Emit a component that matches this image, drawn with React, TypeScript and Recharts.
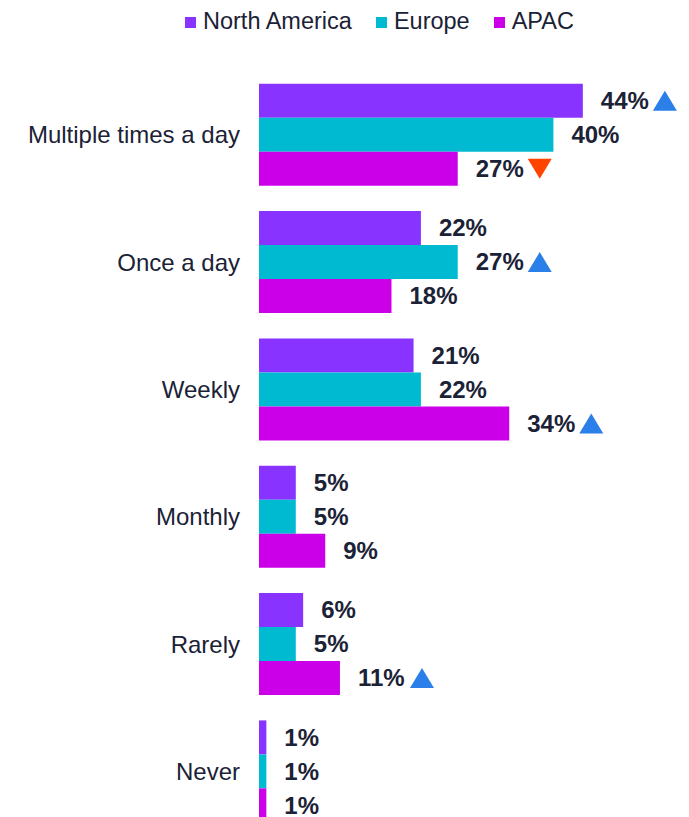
import { Bar, BarChart, LabelList, XAxis, YAxis } from 'recharts';

const categories = ['Multiple times a day', 'Once a day', 'Weekly', 'Monthly', 'Rarely', 'Never'];
const northAmerica = [44, 22, 21, 5, 6, 1];
const europe = [40, 27, 22, 5, 5, 1];
const apac = [27, 18, 34, 9, 11, 1];

// significance markers shown after the value label
const northAmericaTrend = ['up', '', '', '', '', ''];
const europeTrend = ['', 'up', '', '', '', ''];
const apacTrend = ['down', '', 'up', '', 'up', ''];

const seriesNames = ['North America', 'Europe', 'APAC'];
const seriesColors = ['#8833ff', '#00bad2', '#cc00e8'];

const data = categories.map((category, i) => ({
    category,
    northAmerica: northAmerica[i],
    europe: europe[i],
    apac: apac[i],
}));

const FONT = '"Liberation Sans", Arial, Helvetica, sans-serif';
const TEXT = '#1b2236';
const UP = '#2b7fe8';
const DOWN = '#ff4400';

function textWidth(s: string, size: number) {
    let w = 0;
    for (const ch of s) w += ch === '%' ? 0.889 : 0.556;
    return w * size;
}

function makeLabel(trends: string[]) {
    return (props: any) => {
        const { x, y, width, height, value, index } = props;
        const tx = Number(x) + Number(width) + 18;
        const cy = Number(y) + Number(height) / 2;
        const label = `${value}%`;
        const trend = trends[index];
        const lx = tx + textWidth(label, 24) + 4;
        let tri = null;
        if (trend === 'up') {
            tri = <path d={`M${lx},${cy + 10} L${lx + 24},${cy + 10} L${lx + 12},${cy - 10} Z`} fill={UP} />;
        } else if (trend === 'down') {
            tri = <path d={`M${lx},${cy - 10} L${lx + 24},${cy - 10} L${lx + 12},${cy + 10} Z`} fill={DOWN} />;
        }
        return (
            <g>
                <text x={tx} y={cy} dy="0.35em" fill={TEXT} fontSize={24} fontWeight="bold" fontFamily={FONT}>
                    {label}
                </text>
                {tri}
            </g>
        );
    };
}

function LegendRow() {
    return (
        <div
            style={{
                position: 'absolute',
                left: 185,
                top: 10,
                height: 24,
                display: 'flex',
                alignItems: 'center',
                fontFamily: FONT,
                fontSize: 23.5,
                color: TEXT,
                lineHeight: 1,
            }}
        >
            {seriesNames.map((name, i) => (
                <div key={name} style={{ display: 'flex', alignItems: 'center', marginRight: 24 }}>
                    <span style={{ width: 11, height: 11, background: seriesColors[i], marginRight: 7 }} />
                    <span>{name}</span>
                </div>
            ))}
        </div>
    );
}

export default function App() {
    return (
        <div style={{ position: 'absolute', left: 0, top: 0, width: 689, height: 817, overflow: 'hidden', background: '#fff' }}>
            <LegendRow />
            <BarChart
                width={689}
                height={840}
                data={data}
                layout="vertical"
                margin={{ top: 71, right: 62, bottom: 5, left: 0 }}
                barCategoryGap="10%"
                barGap={0}
            >
                <XAxis type="number" domain={[0, 50]} hide />
                <YAxis
                    type="category"
                    dataKey="category"
                    width={259}
                    axisLine={false}
                    tickLine={false}
                    tickSize={0}
                    tickMargin={19}
                    interval={0}
                    tick={{ fill: TEXT, fontSize: 24, fontFamily: FONT }}
                />
                <Bar dataKey="northAmerica" fill={seriesColors[0]} isAnimationActive={false}>
                    <LabelList dataKey="northAmerica" content={makeLabel(northAmericaTrend)} />
                </Bar>
                <Bar dataKey="europe" fill={seriesColors[1]} isAnimationActive={false}>
                    <LabelList dataKey="europe" content={makeLabel(europeTrend)} />
                </Bar>
                <Bar dataKey="apac" fill={seriesColors[2]} isAnimationActive={false}>
                    <LabelList dataKey="apac" content={makeLabel(apacTrend)} />
                </Bar>
            </BarChart>
        </div>
    );
}
